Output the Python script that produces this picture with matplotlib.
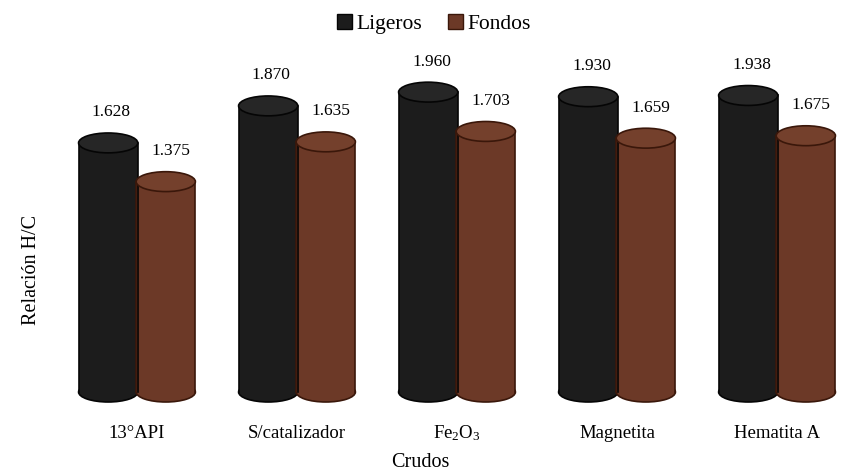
import matplotlib
matplotlib.use('Agg')
import matplotlib.pyplot as plt
from matplotlib.patches import Rectangle, Ellipse, Patch

plt.rcParams['font.family'] = ['Liberation Serif', 'DejaVu Serif']
plt.rcParams['mathtext.fontset'] = 'custom'
plt.rcParams['mathtext.rm'] = 'Liberation Serif'
plt.rcParams['mathtext.it'] = 'Liberation Serif:italic'

crudos = ['13°API', 'S/catalizador', r'Fe$_2$O$_3$', 'Magnetita', 'Hematita A']
ligeros = [1.628, 1.870, 1.960, 1.930, 1.938]
fondos = [1.375, 1.635, 1.703, 1.659, 1.675]

# colores: cuerpo, tapa, borde
col_lig = ('#1c1c1c', '#262626', '#050505')
col_fon = ('#6c3927', '#74402c', '#3a170a')

w = 0.37
eh = 0.13


def cilindro(ax, xc, h, cols):
    cuerpo, tapa, borde = cols
    ax.add_patch(Ellipse((xc, 0), w, eh, facecolor=cuerpo, edgecolor=borde, lw=1.2, zorder=2))
    ax.add_patch(Rectangle((xc - w / 2, 0), w, h, facecolor=cuerpo, edgecolor='none', zorder=2))
    ax.plot([xc - w / 2, xc - w / 2], [0, h], color=borde, lw=1.2, zorder=3)
    ax.plot([xc + w / 2, xc + w / 2], [0, h], color=borde, lw=1.2, zorder=3)
    ax.add_patch(Ellipse((xc, h), w, eh, facecolor=tapa, edgecolor=borde, lw=1.2, zorder=3))


fig = plt.figure(figsize=(8.5, 4.73), dpi=100)
ax = fig.add_axes([0, 0, 1, 1])
ax.set_xlim(-0.856, 4.456)
ax.set_ylim(-0.529, 2.562)
ax.axis('off')

for i in range(len(crudos)):
    cilindro(ax, i - 0.18, ligeros[i], col_lig)
    cilindro(ax, i + 0.18, fondos[i], col_fon)
    ax.text(i - 0.16, ligeros[i] + 0.2, f'{ligeros[i]:.3f}', ha='center', va='center', fontsize=12.5)
    ax.text(i + 0.21, fondos[i] + 0.2, f'{fondos[i]:.3f}', ha='center', va='center', fontsize=12.5)
    ax.text(i, -0.27, crudos[i], ha='center', va='center', fontsize=13.5)

ax.text(1.77, -0.46, 'Crudos', ha='center', va='center', fontsize=14.5)
ax.text(-0.66, 0.8, 'Relación H/C', ha='center', va='center', rotation=90, fontsize=14.5)

handles = [Patch(facecolor=col_lig[0], edgecolor=col_lig[2]),
           Patch(facecolor=col_fon[0], edgecolor=col_fon[2])]
fig.legend(handles, ['Ligeros', 'Fondos'], loc='upper center', bbox_to_anchor=(0.51, 1.012),
           ncol=2, frameon=False, fontsize=15.5, handlelength=0.7, handleheight=0.7,
           handletextpad=0.2, columnspacing=1.2)

fig.savefig('out.png', dpi=100)
